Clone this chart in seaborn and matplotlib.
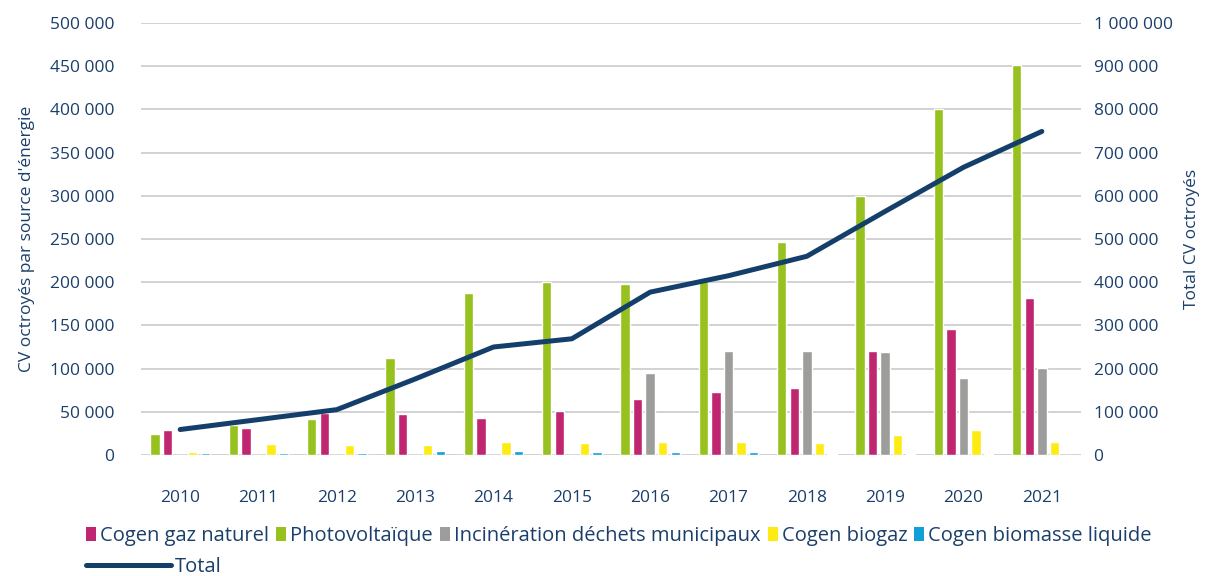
import matplotlib
matplotlib.use("Agg")
import matplotlib.pyplot as plt
from matplotlib.lines import Line2D
from matplotlib.patches import Patch
from matplotlib.ticker import FuncFormatter, MultipleLocator
import numpy as np
import pandas as pd
import seaborn as sns

# --- data ---
years = ["2010", "2011", "2012", "2013", "2014", "2015",
         "2016", "2017", "2018", "2019", "2020", "2021"]
cogen_gaz = [29000, 31000, 49000, 47500, 43000, 51000, 65000, 73000, 77500, 120500, 146000, 182000]
photovolt = [24500, 35000, 42000, 112000, 187500, 200000, 198000, 203000, 246500, 300000, 400000, 451000]
incineration = [0, 0, 0, 0, 0, 0, 95000, 120500, 120500, 119500, 89000, 101000]
cogen_biogaz = [3500, 12500, 11500, 11500, 15000, 14000, 15000, 15000, 14000, 23000, 29000, 15000]
cogen_biomasse = [2500, 2500, 2500, 4500, 4500, 3500, 3500, 3500, 1000, 1000, 1000, 500]
totals = [59000, 82000, 105000, 176000, 250000, 269000, 377000, 415000, 460000, 564000, 666000, 749000]

legend_order = ["Cogen gaz naturel", "Photovoltaïque", "Incinération déchets municipaux",
                "Cogen biogaz", "Cogen biomasse liquide"]
bar_order = ["Photovoltaïque", "Cogen gaz naturel", "Incinération déchets municipaux",
             "Cogen biogaz", "Cogen biomasse liquide"]
colors = {
    "Cogen gaz naturel": "#C0266F",
    "Photovoltaïque": "#97C11F",
    "Incinération déchets municipaux": "#9D9D9C",
    "Cogen biogaz": "#FFEB14",
    "Cogen biomasse liquide": "#0F9FD9",
}

series = {
    "Cogen gaz naturel": cogen_gaz,
    "Photovoltaïque": photovolt,
    "Incinération déchets municipaux": incineration,
    "Cogen biogaz": cogen_biogaz,
    "Cogen biomasse liquide": cogen_biomasse,
}
df = pd.DataFrame(
    [(y, name, v) for name, vals in series.items() for y, v in zip(years, vals)],
    columns=["year", "source", "value"],
)

text_col = "#1B3F6B"
line_col = "#143F6B"
grid_col = "#D2D2D2"

sns.set_theme(style="white")
plt.rcParams["font.family"] = ["Open Sans", "DejaVu Sans"]

fig = plt.figure(figsize=(12.06, 5.76), dpi=100)
ax = fig.add_axes([141 / 1206, 1 - 455 / 576, 940 / 1206, 432 / 576])

sns.barplot(data=df, x="year", y="value", hue="source", hue_order=bar_order,
            order=years, palette=colors, width=0.8, gap=0.25, legend=False,
            saturation=1, ax=ax)

ax.set_xlim(-0.5, len(years) - 0.5)
ax.set_ylim(0, 500000)
ax.yaxis.set_major_locator(MultipleLocator(50000))
fmt = FuncFormatter(lambda v, _: f"{int(v):,}".replace(",", " "))
ax.yaxis.set_major_formatter(fmt)
ax.set_axisbelow(True)
ax.yaxis.grid(True, color=grid_col, lw=1.4)
ax.xaxis.grid(False)
for s in ax.spines.values():
    s.set_visible(False)
ax.tick_params(axis="y", length=0, pad=19, labelsize=12.5, labelcolor=text_col)
ax.tick_params(axis="x", length=0, pad=25, labelsize=12.5, labelcolor=text_col)
ax.set_xlabel("")
ax.set_ylabel("CV octroyés par source d'énergie", fontsize=12.5, color=text_col, labelpad=11)

ax2 = ax.twinx()
sns.lineplot(x=np.arange(len(years)), y=totals, color=line_col, lw=3.6,
             solid_capstyle="round", ax=ax2)
ax2.set_ylim(0, 1000000)
ax2.yaxis.set_major_locator(MultipleLocator(100000))
ax2.yaxis.set_major_formatter(fmt)
ax2.grid(False)
for s in ax2.spines.values():
    s.set_visible(False)
ax2.tick_params(axis="y", length=0, pad=9, labelsize=12.5, labelcolor=text_col)
ax2.set_ylabel("Total CV octroyés", fontsize=12.5, color=text_col, labelpad=8)

# legends: bar squares on first row, line on second
handles = [Patch(facecolor=colors[n], edgecolor="none") for n in legend_order]
leg1 = fig.legend(handles, legend_order, loc="center left", bbox_to_anchor=(86 / 1206, 1 - 536 / 576),
                  ncol=5, frameon=False, fontsize=14.5, handlelength=0.5, handleheight=0.75,
                  handletextpad=0.2, columnspacing=0.35, borderaxespad=0, borderpad=0)
for t in leg1.get_texts():
    t.set_color(text_col)
leg2 = fig.legend([Line2D([0], [0], color=line_col, lw=3.6)], ["Total"], loc="center left",
                  bbox_to_anchor=(86 / 1206, 1 - 567 / 576), frameon=False, fontsize=14.5,
                  handlelength=4.2, handletextpad=0.2, borderaxespad=0, borderpad=0)
for t in leg2.get_texts():
    t.set_color(text_col)

fig.savefig("out.png", dpi=100)
